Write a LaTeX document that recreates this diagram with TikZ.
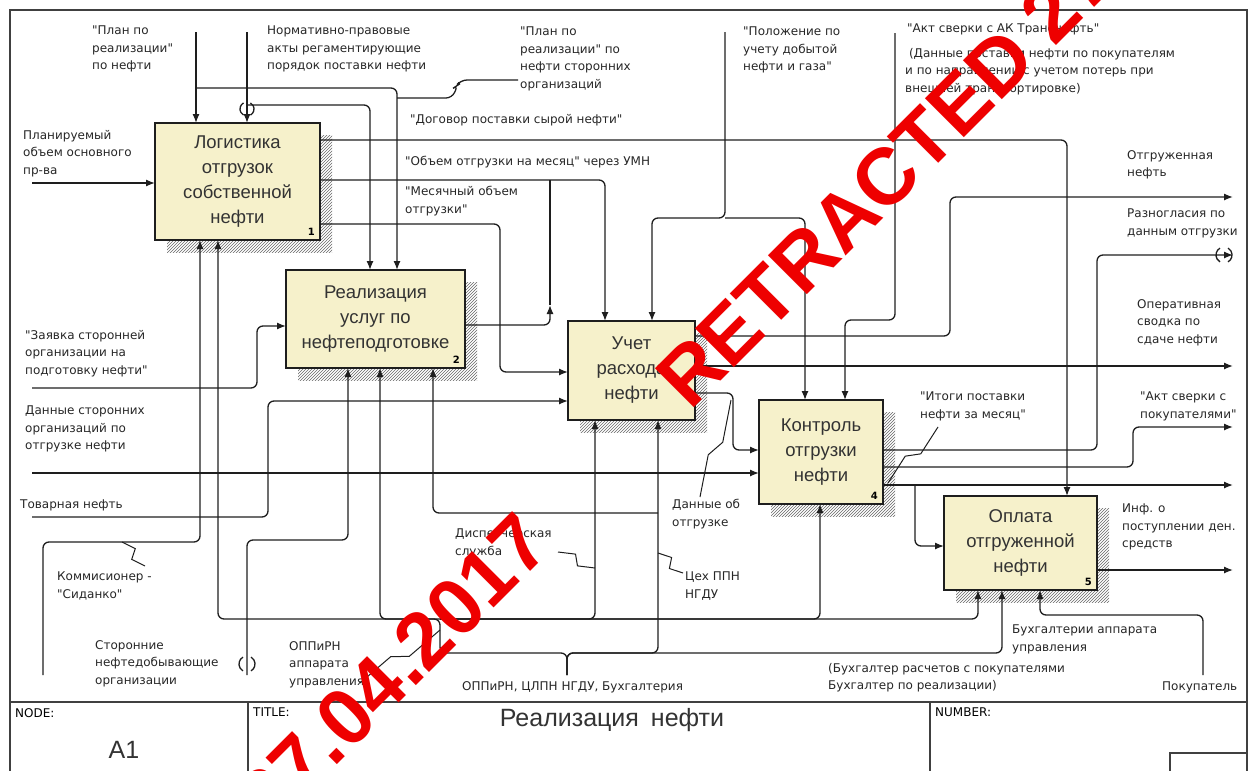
\documentclass[tikz,border=0pt]{standalone}
\usepackage{fontspec}
\setmainfont{Liberation Sans}
\newfontfamily\lblfont{DejaVu Sans}
\usetikzlibrary{positioning,arrows.meta,calc,patterns}
\pgfdeclarelayer{background}
\pgfdeclarelayer{foreground}
\pgfsetlayers{background,main,foreground}
\definecolor{boxfill}{RGB}{246,241,203}
\definecolor{inkline}{RGB}{30,30,30}
\definecolor{stampred}{RGB}{238,0,0}

\begin{document}
\begin{tikzpicture}[x=1pt,y=-1pt,
	funcbox/.style={draw=inkline, line width=1.4pt, fill=boxfill, inner sep=2pt, outer sep=0pt, align=center, text=black!80, font=\fontsize{18.5}{25}\selectfont},
	boxnum/.style={anchor=south east, inner sep=0pt, font=\lblfont\bfseries\fontsize{10}{10}\selectfont},
	lbl/.style={anchor=north west, inner sep=0pt, align=left, text=black!85, font=\lblfont\fontsize{12}{17.5}\selectfont},
	flow/.style={draw=inkline, line width=1.3pt, rounded corners=6pt},
	arr/.style={flow, -{Latex[length=9pt,width=7pt]}},
	zz/.style={draw=inkline, line width=1pt, to path={-- ($(\tikztostart)!0.42!(\tikztotarget)!5pt!90:(\tikztotarget)$) -- ($(\tikztostart)!0.58!(\tikztotarget)!5pt!-90:(\tikztotarget)$) -- (\tikztotarget)}},
	frame/.style={draw=black!75, line width=1.8pt},
	stamp/.style={rotate=45, text=stampred, inner sep=0pt, font=\bfseries\fontsize{80}{80}\selectfont},
	]
	\useasboundingbox (0,0) rectangle (1256,771);
	%Frame
	\draw[frame] (10,771) -- (10,10) -- (1247,10) -- (1247,771);
	\draw[frame] (10,702) -- (1247,702);
	\draw[frame] (248,702) -- (248,771);
	\draw[frame] (930,702) -- (930,771);
	\draw[frame] (1170,771) -- (1170,753) -- (1247,753);

	%Nodes
	\node[funcbox, minimum width=165pt, minimum height=117pt] (f1) at (237.5,181.5) {Логистика\\отгрузок\\собственной\\нефти};
	\node[funcbox, minimum width=179pt, minimum height=98pt]  (f2) at (375.5,319)   {Реализация\\услуг по\\нефтеподготовке};
	\node[funcbox, minimum width=127pt, minimum height=99pt]  (f3) at (631.5,370.5) {Учет\\расхода\\нефти};
	\node[funcbox, minimum width=124pt, minimum height=104pt] (f4) at (821,452)     {Контроль\\отгрузки\\нефти};
	\node[funcbox, minimum width=153pt, minimum height=94pt]  (f5) at (1020.5,543)  {Оплата\\отгруженной\\нефти};
	\node[boxnum] (n1) at ([xshift=-5pt,yshift=4pt]f1.south east) {1};
	\node[boxnum] (n2) at ([xshift=-5pt,yshift=4pt]f2.south east) {2};
	\node[boxnum] (n4) at ([xshift=-5pt,yshift=4pt]f4.south east) {4};
	\node[boxnum] (n5) at ([xshift=-5pt,yshift=4pt]f5.south east) {5};

	\node[lbl] (lplan)   at (92,26)    {"План по\\реализации"\\по нефти};
	\node[lbl] (lnorm)   at (267,26)   {Нормативно-правовые\\акты регаментирующие\\порядок поставки нефти};
	\node[lbl] (lplanst) at (520,27)   {"План по\\реализации" по\\нефти сторонних\\организаций};
	\node[lbl] (ldog)    at (410,114)  {"Договор поставки сырой нефти"};
	\node[lbl] (lobem)   at (405,156)  {"Объем отгрузки на месяц" через УМН};
	\node[lbl] (lmes)    at (405,186)  {"Месячный объем\\отгрузки"};
	\node[lbl] (lpol)    at (743,27)   {"Положение по\\учету добытой\\нефти и газа"};
	\node[lbl] (lakt)    at (907,24)   {"Акт сверки с АК Транснефть"};
	\node[lbl] (ldan)    at (905,48)   {\ (Данные поставки нефти по покупателям\\и по направлении с учетом потерь при\\внешней транспортировке)};
	\node[lbl] (lplanir) at (23,130)   {Планируемый\\объем основного\\пр-ва};
	\node[lbl] (lzay)    at (25,330)   {"Заявка сторонней\\организации на\\подготовку нефти"};
	\node[lbl] (ldst)    at (25,406)   {Данные сторонних\\организаций по\\отгрузке нефти};
	\node[lbl] (ltov)    at (20,500)   {Товарная нефть};
	\node[lbl] (lkom)    at (57,572)   {Коммисионер -\\"Сиданко"};
	\node[lbl] (lstor)   at (95,640)   {Сторонние\\нефтедобывающие\\организации};
	\node[lbl] (loppa)   at (289,641)  {ОППиРН\\аппарата\\управления};
	\node[lbl] (ldisp)   at (455,529)  {Диспетчерская\\служба};
	\node[lbl] (ldot)    at (672,499)  {Данные об\\отгрузке};
	\node[lbl] (lceh)    at (685,572)  {Цех ППН\\НГДУ};
	\node[lbl] (loppall) at (462,681)  {ОППиРН, ЦЛПН НГДУ, Бухгалтерия};
	\node[lbl] (lbuh)    at (1012,625) {Бухгалтерии аппарата\\управления};
	\node[lbl] (lbuhr)   at (828,663)  {(Бухгалтер расчетов с покупателями\\Бухгалтер по реализации)};
	\node[lbl] (lpok)    at (1162,682) {Покупатель};
	\node[lbl] (lotg)    at (1127,150) {Отгруженная\\нефть};
	\node[lbl] (lraz)    at (1127,209) {Разногласия по\\данным отгрузки};
	\node[lbl] (loper)   at (1137,299) {Оперативная\\сводка по\\сдаче нефти};
	\node[lbl] (laktp)   at (1140,392) {"Акт сверки с\\покупателями"};
	\node[lbl] (litog)   at (920,392)  {"Итоги поставки\\нефти за месяц"};
	\node[lbl] (linf)    at (1122,504) {Инф. о\\поступлении ден.\\средств};

	\node[anchor=north west, inner sep=0pt, font=\lblfont\fontsize{12}{12}\selectfont] (tnode)   at (15,708)  {NODE:};
	\node[anchor=north west, inner sep=0pt, font=\lblfont\fontsize{12}{12}\selectfont] (ttitle)  at (253,708) {TITLE:};
	\node[anchor=north west, inner sep=0pt, font=\lblfont\fontsize{12}{12}\selectfont] (tnumber) at (935,708) {NUMBER:};
	\node[font=\fontsize{25}{25}\selectfont, text=black!80] (tnum)  at (124,750) {A1};
	\node[font=\fontsize{25}{25}\selectfont, text=black!80] (tname) at (612,720) {Реализация\hspace{12pt}нефти};

	%Ends and junctions
	\coordinate (c1) at (196,32);
	\coordinate (c2) at (247,32);
	\coordinate (c6) at (725,32);
	\coordinate (c7) at (895,33);
	\coordinate (i1) at (32,183);
	\coordinate (i2) at (32,388);
	\coordinate (i3) at (32,473);
	\coordinate (i4) at (32,517);
	\coordinate (o1) at (1233,197);
	\coordinate (o2) at (1233,366);
	\coordinate (o3) at (1233,255);
	\coordinate (o4) at (1233,427);
	\coordinate (o5) at (1233,485);
	\coordinate (o6) at (1233,570);
	\coordinate (m1) at (43,675);
	\coordinate (m2) at (247,675);
	\coordinate (m4) at (567,675);
	\coordinate (m5) at (1203,675);
	\coordinate (j1) at (196,88);
	\coordinate (j2) at (247,105);
	\coordinate (j3) at (440,619);
	\coordinate (j4) at (658,513);
	\coordinate (j5) at (915,485);
	\coordinate (j6) at (725,218);
	\coordinate (j7) at (550,305);
	\coordinate (j8) at (397,98);
	\coordinate (s1a) at (145,566); \coordinate (s1b) at (122,542);
	\coordinate (s2a) at (558,552); \coordinate (s2b) at (595,568);
	\coordinate (s3a) at (683,573); \coordinate (s3b) at (658,553);
	\coordinate (s4a) at (700,497); \coordinate (s4b) at (731,400);
	\coordinate (s5a) at (938,427); \coordinate (s5b) at (888,483);
	\coordinate (s6a) at (360,683); \coordinate (s6b) at (440,630);
	\coordinate (s7a) at (518,80);

	%Lines
	\draw[arr] (c1) -- (c1 |- f1.north);
	\draw[arr] (j1) -| (397,0 |- f2.north);
	\draw[arr] (c2) -- (c2 |- f1.north);
	\draw[arr] (j2) -| (370,0 |- f2.north);
	\draw[flow] (j8) -- (452,98) -- (458,85) -- (455,87) -- (461,80) -- (s7a);
	\draw[arr] (f1.east |- 0,140) -| (1067,0 |- f5.north);
	\draw[arr] (f1.east |- 0,180) -| (605,0 |- f3.north);
	\draw[arr] (f2.east |- 0,325) -| (j7);
	\draw[flow] (j7) -- (550,180);
	\draw[arr] (f1.east |- 0,224) -| (500,372) -- (f3.west |- 0,372);
	\draw[arr] (c6) -- (j6) -| (652,0 |- f3.north);
	\draw[arr] (j6) -| (805,0 |- f4.north);
	\draw[arr] (c7) |- (845,320) -- (845,0 |- f4.north);

	\draw[arr] (i1) -- (f1.west |- i1);
	\draw[arr] (i2) -| (257,326) -- (f2.west |- 0,326);
	\draw[arr] (i3) -- (f4.west |- i3);
	\draw[arr] (i4) -| (268,401) -- (f3.west |- 0,401);

	\draw[arr] (f3.east |- 0,393) -| (733,450) -- (f4.west |- 0,450);
	\draw[arr] (f3.east |- 0,336) -| (950,197) -- (o1);
	\draw[arr] (f3.east |- o2) -- (o2);
	\draw[arr] (f4.east |- 0,450) -| (1097,255) -- (o3);
	\draw[arr] (f4.east |- 0,467) -| (1133,427) -- (o4);
	\draw[arr] (f4.east |- o5) -- (o5);
	\draw[arr] (j5) |- (f5.west |- 0,546);
	\draw[arr] (f5.east |- o6) -- (o6);

	\draw[arr] (m1) |- (200,542) -- (200,0 |- f1.south);
	\draw[arr] (m2) |- (348,540) -- (348,0 |- f2.south);
	\draw[arr] (m4) |- (440,653) |- (218,619) -- (218,0 |- f1.south);
	\draw[arr] (j3) -| (380,0 |- f2.south);
	\draw[arr] (j3) -| (595,0 |- f3.south);
	\draw[arr] (j3) -| (820,0 |- f4.south);
	\draw[arr] (j3) -| (978,0 |- f5.south);
	\draw[arr] (m4) |- (658,653) -- (658,0 |- f3.south);
	\draw[arr] (j4) -| (433,0 |- f2.south);
	\draw[arr] (m4) |- (1002,653) -- (1002,0 |- f5.south);
	\draw[arr] (m5) |- (1040,615) -- (1040,0 |- f5.south);

	%Squiggles
	\draw[zz] (s1a) to (s1b);
	\draw[zz] (s2a) to (s2b);
	\draw[zz] (s3a) to (s3b);
	\draw[zz] (s4a) to (s4b);
	\draw[zz] (s5a) to (s5b);
	\draw[zz] (s6a) to (s6b);

	%Tunnels
	\draw[flow] ([shift={(120:7pt)}]247,109) arc (120:240:7pt);
	\draw[flow] ([shift={(-60:7pt)}]247,109) arc (-60:60:7pt);
	\draw[flow] ([shift={(120:8pt)}]247,664) arc (120:240:8pt);
	\draw[flow] ([shift={(-60:8pt)}]247,664) arc (-60:60:8pt);
	\draw[flow] ([shift={(120:8pt)}]1224,255) arc (120:240:8pt);
	\draw[flow] ([shift={(-60:8pt)}]1224,255) arc (-60:60:8pt);

	\begin{pgfonlayer}{background}
	\foreach \f in {f1,f2,f3,f4,f5}
		\fill[pattern=north east lines, pattern color=black!60] ([xshift=12pt,yshift=-12pt]\f.south west) rectangle ([xshift=12pt,yshift=-12pt]\f.north east);
	\end{pgfonlayer}

	\begin{pgfonlayer}{foreground}
	\begin{scope}
	\clip (0,0) rectangle (1256,771);
	\node[stamp, anchor=base west] (wm1) at (690,412) {RETRACTED 27.04.2017};
	\node[stamp, anchor=base east] (wm2) at (554,548) {RETRACTED 27.04.2017};
	\end{scope}
	\end{pgfonlayer}
\end{tikzpicture}
\end{document}
